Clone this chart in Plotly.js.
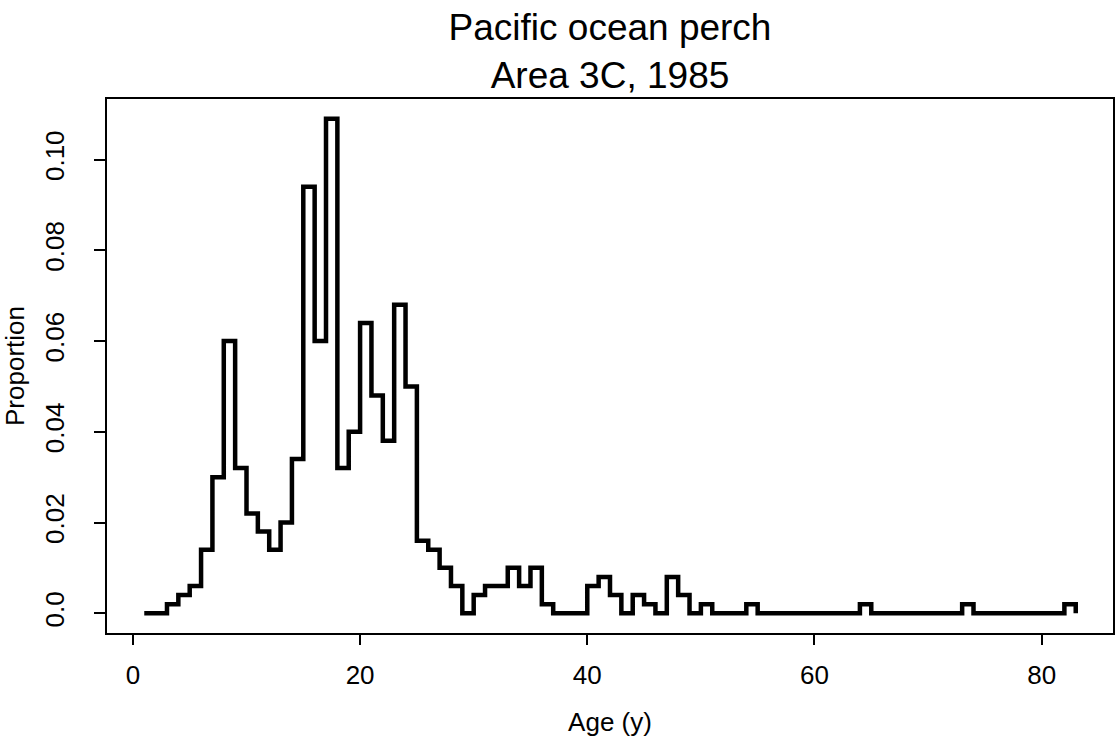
<!DOCTYPE html>
<html>
<head>
<meta charset="utf-8">
<script src="https://cdn.plot.ly/plotly-3.0.1.min.js"></script>
<style>
  html, body { margin: 0; padding: 0; background: #ffffff; }
  #chart { width: 1115px; height: 755px; }
</style>
</head>
<body>
<div id="chart"></div>
<script>
// Age composition, Pacific ocean perch, Area 3C, 1985
const ages = [];
for (let a = 1; a <= 83; a++) ages.push(a);

const proportions = [
  0.000, 0.000, 0.002, 0.004, 0.006, 0.014, 0.030, 0.060, 0.032, 0.022, // 1-10
  0.018, 0.014, 0.020, 0.034, 0.094, 0.060, 0.109, 0.032, 0.040, 0.064, // 11-20
  0.048, 0.038, 0.068, 0.050, 0.016, 0.014, 0.010, 0.006, 0.000, 0.004, // 21-30
  0.006, 0.006, 0.010, 0.006, 0.010, 0.002, 0.000, 0.000, 0.000, 0.006, // 31-40
  0.008, 0.004, 0.000, 0.004, 0.002, 0.000, 0.008, 0.004, 0.000, 0.002, // 41-50
  0.000, 0.000, 0.000, 0.002, 0.000, 0.000, 0.000, 0.000, 0.000, 0.000, // 51-60
  0.000, 0.000, 0.000, 0.002, 0.000, 0.000, 0.000, 0.000, 0.000, 0.000, // 61-70
  0.000, 0.000, 0.002, 0.000, 0.000, 0.000, 0.000, 0.000, 0.000, 0.000, // 71-80
  0.000, 0.002, 0.000                                                   // 81-83
];

const xTicks = [0, 20, 40, 60, 80];
const yTicks = [0, 0.02, 0.04, 0.06, 0.08, 0.10];
const yTickText = ['0.0', '0.02', '0.04', '0.06', '0.08', '0.10'];

// Axis limits padded by 4% of the data range on each side
function padRange(lo, hi) {
  const d = (hi - lo) * 0.04;
  return [lo - d, hi + d];
}
const xRange = padRange(Math.min(...ages), Math.max(...ages));
const yRange = padRange(0, Math.max(...proportions));

const FONT = 'Liberation Sans, Arial, Helvetica, sans-serif';
const LABEL_SIZE = 26;

const trace = {
  x: ages,
  y: proportions,
  type: 'scatter',
  mode: 'lines',
  line: { shape: 'hv', color: '#000000', width: 4.5 },
  hoverinfo: 'x+y'
};

const layout = {
  width: 1115,
  height: 755,
  paper_bgcolor: '#ffffff',
  plot_bgcolor: '#ffffff',
  showlegend: false,
  margin: { l: 107, r: 2, t: 99, b: 122, pad: 0 },
  font: { family: FONT, color: '#000000' },
  title: {
    text: 'Pacific ocean perch<br>Area 3C, 1985',
    font: { family: FONT, size: 37, color: '#000000' },
    x: 0.5, xref: 'paper', xanchor: 'center',
    y: 0.947, yref: 'container', yanchor: 'top'
  },
  xaxis: {
    range: xRange,
    tickmode: 'array',
    tickvals: xTicks,
    ticktext: xTicks.map(String),
    ticks: 'outside', ticklen: 10, tickwidth: 2, tickcolor: '#000000',
    showline: true, linewidth: 2, linecolor: '#000000', mirror: true,
    showgrid: false, zeroline: false,
    tickfont: { family: FONT, size: LABEL_SIZE, color: '#000000' },
    ticklabelstandoff: 8,
    title: { text: 'Age (y)', font: { family: FONT, size: LABEL_SIZE, color: '#000000' }, standoff: 24 }
  },
  yaxis: {
    range: yRange,
    tickmode: 'array',
    tickvals: yTicks,
    ticktext: yTickText,
    tickangle: -90,
    ticks: 'outside', ticklen: 11, tickwidth: 2, tickcolor: '#000000',
    showline: true, linewidth: 2, linecolor: '#000000', mirror: true,
    showgrid: false, zeroline: false,
    tickfont: { family: FONT, size: LABEL_SIZE, color: '#000000' },
    ticklabelstandoff: 20,
    title: { text: 'Proportion', font: { family: FONT, size: LABEL_SIZE, color: '#000000' }, standoff: 8 }
  }
};

Plotly.newPlot('chart', [trace], layout, { staticPlot: true, displayModeBar: false });
</script>
</body>
</html>
